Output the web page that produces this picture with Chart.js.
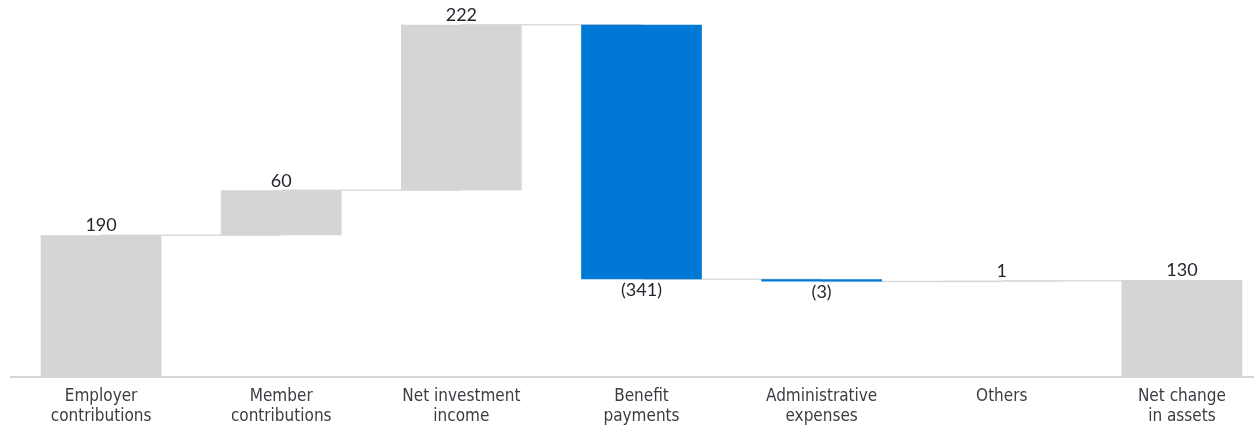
<!DOCTYPE html>
<html>
<head>
<meta charset="utf-8">
<script src="https://cdn.jsdelivr.net/npm/chart.js@4.4.1/dist/chart.umd.min.js"></script>
<style>
  html, body { margin: 0; padding: 0; background: #fff; overflow: hidden; }
  #wrap { width: 1272px; height: 429px; }
</style>
</head>
<body>
<div id="wrap"><canvas id="chart"></canvas></div>
<script>
const categories = [
  ["Employer", "contributions"],
  ["Member", "contributions"],
  ["Net investment", "income"],
  ["Benefit", "payments"],
  ["Administrative", "expenses"],
  ["Others"],
  ["Net change", "in assets"]
];
const changes = [190, 60, 222, -341, -3, 1];
const netChange = 130;

const grey = "#d4d5d7";
const blue = "#0079d6";

// build floating bars from running total
const ranges = [];
const colors = [];
const labels = [];
let running = 0;
changes.forEach(v => {
  ranges.push([running, running + v]);
  running += v;
  colors.push(v < 0 ? blue : grey);
  labels.push(v < 0 ? "(" + Math.abs(v) + ")" : String(v));
});
ranges.push([0, netChange]);
colors.push(grey);
labels.push(String(netChange));

const waterfallExtras = {
  id: "waterfallExtras",
  beforeDatasetsDraw(chart) {
    const ctx = chart.ctx;
    const meta = chart.getDatasetMeta(0);
    const y = chart.scales.y;
    ctx.save();
    ctx.strokeStyle = "#dcdcdc";
    ctx.lineWidth = 1.5;
    for (let i = 0; i < ranges.length - 1; i++) {
      const level = y.getPixelForValue(ranges[i][1]);
      const a = meta.data[i], b = meta.data[i + 1];
      ctx.beginPath();
      ctx.moveTo(a.x, level);
      ctx.lineTo(b.x, level);
      ctx.stroke();
    }
    ctx.restore();
  },
  afterDatasetsDraw(chart) {
    const ctx = chart.ctx;
    const meta = chart.getDatasetMeta(0);
    const y = chart.scales.y;
    ctx.save();
    ctx.font = "18px Lato";
    ctx.fillStyle = "#23272e";
    ctx.textAlign = "center";
    meta.data.forEach((bar, i) => {
      const [lo, hi] = ranges[i];
      if (hi >= lo) {
        ctx.textBaseline = "bottom";
        ctx.fillText(labels[i], bar.x, y.getPixelForValue(hi) - 0.5);
      } else {
        ctx.textBaseline = "top";
        ctx.fillText(labels[i], bar.x, y.getPixelForValue(hi) + 2);
      }
    });
    ctx.restore();
  }
};

new Chart(document.getElementById("chart"), {
  type: "bar",
  data: {
    labels: categories,
    datasets: [{
      data: ranges,
      backgroundColor: colors,
      barPercentage: 0.67,
      categoryPercentage: 1
    }]
  },
  options: {
    responsive: true,
    maintainAspectRatio: false,
    animation: false,
    layout: { padding: { left: 11, top: 0, right: 0, bottom: 0 } },
    plugins: { legend: { display: false }, tooltip: { enabled: false } },
    scales: {
      x: {
        grid: { display: false, drawTicks: false },
        border: { display: true, color: "#d6d6d6", width: 2 },
        ticks: {
          color: "#3a3d42",
          font: { family: "'Liberation Sans Narrow', 'DejaVu Sans Condensed', sans-serif", size: 17, lineHeight: 1.2 },
          padding: 9,
          maxRotation: 0,
          autoSkip: false
        },
        afterFit(scale) { scale.height = 52; }
      },
      y: {
        display: false,
        min: 0,
        max: 505
      }
    }
  },
  plugins: [waterfallExtras]
});
</script>
</body>
</html>
